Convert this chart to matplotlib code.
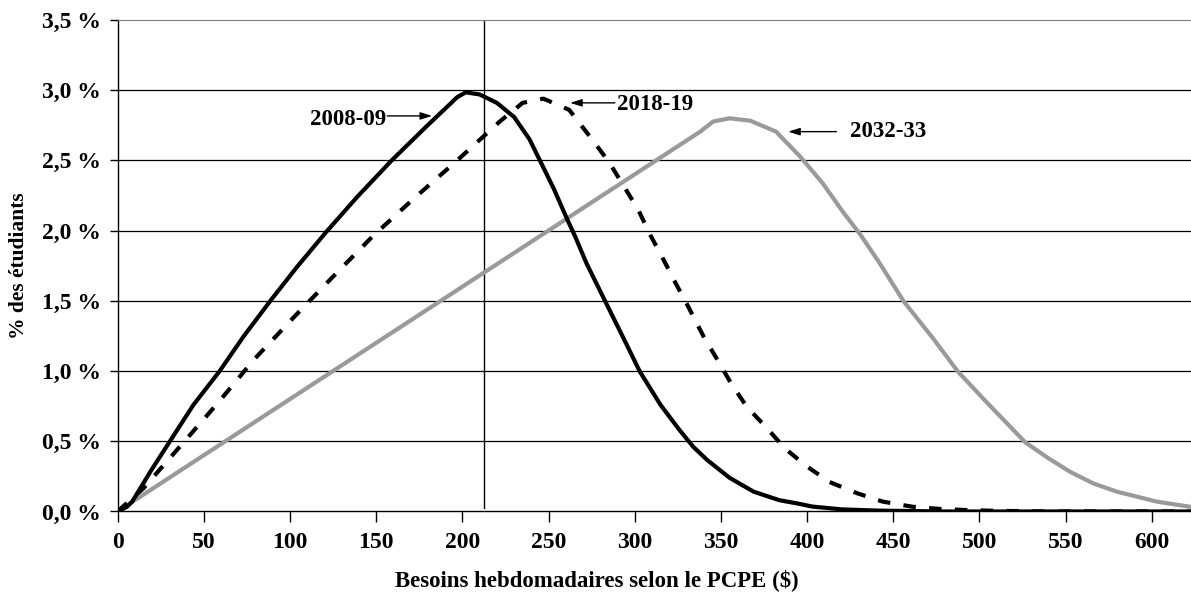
import numpy as np
import matplotlib
matplotlib.use("Agg")
import matplotlib.pyplot as plt

plt.rcParams["font.family"] = ["Liberation Serif", "DejaVu Serif"]
plt.rcParams["font.weight"] = "bold"

# ---- data (% of students vs weekly needs $) ----
x_0809 = [0, 5.5, 8.5, 19, 30, 44, 59, 73, 89, 104, 121, 139, 159, 179, 197, 202, 210, 220, 230, 239, 245, 253, 260.5,
          265.5, 272, 283, 293.5, 303, 315, 326, 334, 342, 355, 369, 384, 394, 403, 420, 442, 480, 622]
y_0809 = [0, 0.034, 0.07, 0.283, 0.493, 0.759, 0.996, 1.245, 1.506, 1.74, 1.99, 2.24, 2.50, 2.74, 2.95, 2.985, 2.97, 2.91,
          2.81, 2.65, 2.50, 2.30, 2.09, 1.957, 1.768, 1.494, 1.234, 0.996, 0.759, 0.58, 0.46, 0.367, 0.24, 0.141, 0.08,
          0.058, 0.035, 0.015, 0.006, 0, 0]

x_1819 = [0, 15, 36, 58, 79, 102, 124, 148, 172, 197, 222, 235, 247, 262, 274, 285, 293, 302, 309, 316, 324, 331, 340, 348,
          356, 365, 377, 387, 400, 413, 429, 444, 461, 477, 493, 508, 540, 622]
y_1819 = [0, 0.165, 0.46, 0.77, 1.08, 1.38, 1.66, 1.96, 2.23, 2.50, 2.78, 2.91, 2.94, 2.86, 2.67, 2.49, 2.33, 2.15, 1.97, 1.81,
          1.62, 1.46, 1.245, 1.08, 0.91, 0.746, 0.59, 0.45, 0.32, 0.21, 0.13, 0.07, 0.034, 0.018, 0.01, 0.005, 0, 0]

x_3233 = [0, 338, 345.5, 355, 367, 382, 396, 409, 421, 431, 442, 456, 473, 487.5, 504, 526.5, 540, 552.5, 566, 580, 603, 622]
y_3233 = [0, 2.705, 2.777, 2.80, 2.783, 2.705, 2.527, 2.338, 2.13, 1.97, 1.77, 1.497, 1.234, 0.996, 0.78, 0.493, 0.379,
          0.283, 0.20, 0.14, 0.07, 0.034]

yticks = [0, 0.5, 1.0, 1.5, 2.0, 2.5, 3.0, 3.5]
xticks = list(range(0, 601, 50))
vline_x = 212.5

FS = 17

fig = plt.figure(figsize=(11.91, 5.99), dpi=100)
ax = fig.add_axes([0.0987, 0.1461, 0.9013, 0.8205])

for y in yticks[1:-1]:
    ax.axhline(y, color="black", lw=0.9, zorder=1)

ax.plot(x_3233, y_3233, color="#9a9a9a", lw=3.0, solid_joinstyle="round", zorder=3)
ax.plot(x_1819, y_1819, color="black", lw=3.0, ls=(0, (3, 3.2)), zorder=4)
ax.plot(x_0809, y_0809, color="black", lw=3.0, solid_joinstyle="round", zorder=5)
ax.plot([vline_x, vline_x], [0.025, 3.5], color="black", lw=1.0, zorder=2)

ax.set_xlim(0, 622.7)
ax.set_ylim(0, 3.5)
ax.set_xticks(xticks)
ax.set_xticklabels([str(v) for v in xticks], fontsize=FS, fontweight="bold")
ax.set_yticks(yticks)
ax.set_yticklabels([f"{v:.1f} %".replace(".", ",") for v in yticks], fontsize=FS, fontweight="bold")
ax.tick_params(axis="x", direction="out", length=8, width=1, pad=7)
ax.tick_params(axis="y", direction="out", length=6, width=1, pad=6)

ax.spines["right"].set_visible(False)
ax.spines["top"].set_color("#808080")
ax.spines["left"].set_linewidth(1.0)
ax.spines["bottom"].set_linewidth(1.0)

# labels with arrows
FA = 16.5
arw = dict(arrowstyle="-|>,head_length=0.7,head_width=0.22", color="black", lw=1.0, shrinkA=0, shrinkB=0)
ax.text(156, 2.79, "2008-09", ha="right", va="center", fontsize=FA, fontweight="bold")
ax.annotate("", xy=(182.5, 2.817), xytext=(156.5, 2.817), arrowprops=arw)
ax.text(289.5, 2.895, "2018-19", ha="left", va="center", fontsize=FA, fontweight="bold")
ax.annotate("", xy=(262.5, 2.91), xytext=(288.5, 2.91), arrowprops=arw)
ax.text(425, 2.705, "2032-33", ha="left", va="center", fontsize=FA, fontweight="bold")
ax.annotate("", xy=(389, 2.705), xytext=(417, 2.705), arrowprops=arw)

fig.text(0.5015, 0.032, "Besoins hebdomadaires selon le PCPE ($)", ha="center", va="center", fontsize=16.5, fontweight="bold")
fig.text(0.016, 0.557, "% des étudiants", ha="center", va="center", rotation=90, fontsize=15.5, fontweight="bold")

fig.savefig("out.png", dpi=100)
